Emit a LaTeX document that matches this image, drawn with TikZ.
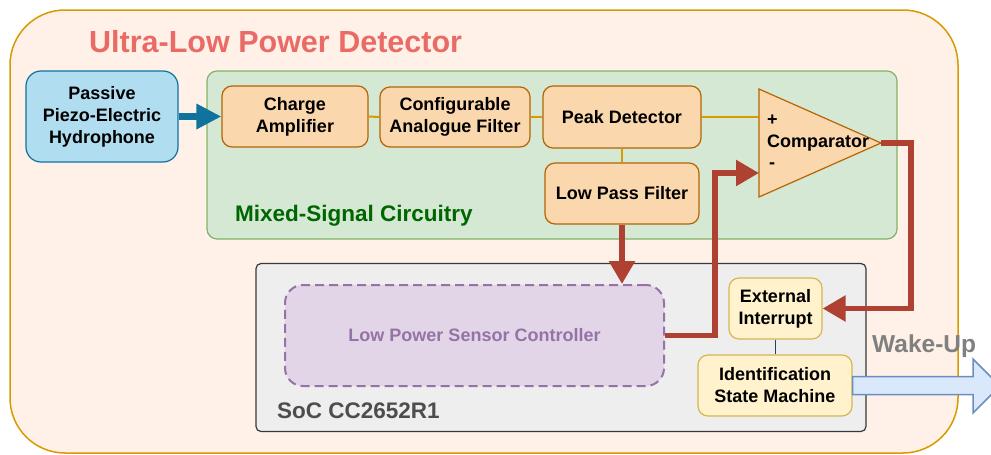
\documentclass[tikz,border=0pt]{standalone}
\usepackage{fontspec}
\setmainfont{Liberation Sans}
\usetikzlibrary{arrows.meta}
\definecolor{outerfill}{HTML}{FFF1E8}
\definecolor{outerdraw}{HTML}{D79B00}
\definecolor{titlered}{HTML}{EA6B66}
\definecolor{hydrofill}{HTML}{B1DDF0}
\definecolor{hydrodraw}{HTML}{10739E}
\definecolor{greenfill}{HTML}{D5E8D4}
\definecolor{greendraw}{HTML}{82B366}
\definecolor{greentext}{HTML}{006600}
\definecolor{orfill}{HTML}{FAD7AC}
\definecolor{ordraw}{HTML}{B46504}
\definecolor{orline}{HTML}{D79B00}
\definecolor{redline}{HTML}{AE4132}
\definecolor{socfill}{HTML}{EEEEEE}
\definecolor{socdraw}{HTML}{36393D}
\definecolor{soctext}{HTML}{4D4D4D}
\definecolor{lpfill}{HTML}{E1D5E7}
\definecolor{lpdraw}{HTML}{9673A6}
\definecolor{yfill}{HTML}{FFF2CC}
\definecolor{ydraw}{HTML}{D6B656}
\definecolor{darkline}{HTML}{23445D}
\definecolor{wfill}{HTML}{DAE8FC}
\definecolor{wdraw}{HTML}{6C8EBF}
\definecolor{wtext}{HTML}{808080}
\begin{document}
\begin{tikzpicture}[x=1pt,y=-1pt,
  txt/.style={font=\fontsize{18}{22}\selectfont\bfseries, align=center, inner sep=0pt},
  box/.style={txt, rounded corners=10pt, line width=1.2pt},
  orbox/.style={box, fill=orfill, draw=ordraw},
  ybox/.style={box, fill=yfill, draw=ydraw},
  orconn/.style={draw=orline, line width=2pt},
  redarrow/.style={draw=redline, line width=5.5pt, -{Triangle[length=23pt,width=25pt]}},
  bluearrow/.style={draw=hydrodraw, line width=6.5pt, -{Triangle[length=25pt,width=24pt]}},
]
\useasboundingbox (0,0) rectangle (991,455);
\clip (0,0) rectangle (991,455);
\node[draw=outerdraw, fill=outerfill, line width=1.5pt, rounded corners=55pt,
  minimum width=948pt, minimum height=443pt, inner sep=0pt] (outer) at (484,231.5) {};
\node[anchor=west, inner sep=0pt, text=titlered, font=\fontsize{30.5}{36}\selectfont\bfseries] (title) at (89,42) {Ultra-Low Power Detector};
\node[box, fill=hydrofill, draw=hydrodraw, rounded corners=15pt, minimum width=152pt, minimum height=91pt] (hydro) at (102,116.5) {Passive\\Piezo-Electric\\Hydrophone};
\node[fill=greenfill, draw=greendraw, line width=1.2pt, rounded corners=10pt, minimum width=690pt, minimum height=168pt, inner sep=0pt] (green) at (552,155) {};
\node[anchor=west, inner sep=0pt, text=greentext, font=\fontsize{22.5}{27}\selectfont\bfseries] (greenlbl) at (235,216) {Mixed-Signal Circuitry};
\node[orbox, minimum width=146pt, minimum height=61pt] (charge) at (295,116.5) {Charge\\Amplifier};
\node[orbox, minimum width=150pt, minimum height=60pt] (config) at (455,117) {Configurable\\Analogue Filter};
\node[orbox, minimum width=158pt, minimum height=62pt] (peak) at (622,117) {Peak Detector};
\node[orbox, minimum width=154pt, minimum height=61pt] (lpf) at (622,193.5) {Low Pass Filter};
\coordinate (cmpA) at (759,89);
\coordinate (cmpB) at (759,197);
\coordinate (cmpT) at (881,143);
\coordinate (cmpP) at (759,117);
\coordinate (cmpM) at (759,173);
\draw[fill=orfill, draw=ordraw, line width=1.2pt, line join=miter] (cmpA) -- (cmpT) -- (cmpB) -- cycle;
\node[txt, anchor=west] (plus) at (767,120) {+};
\node[txt, anchor=west] (cmplbl) at (767,143) {Comparator};
\node[txt, anchor=west] (minus) at (769,166) {-};
\node[fill=socfill, draw=socdraw, line width=1.2pt, rounded corners=5pt, minimum width=610pt, minimum height=168pt, inner sep=0pt] (soc) at (561,347.5) {};
\node[anchor=west, inner sep=0pt, text=soctext, font=\fontsize{22.5}{27}\selectfont\bfseries] (soclbl) at (277,411) {SoC CC2652R1};
\node[txt, fill=lpfill, draw=lpdraw, text=lpdraw, line width=2pt, dash pattern=on 9pt off 5pt, rounded corners=18pt, minimum width=379pt, minimum height=101pt] (lpsc) at (474.5,335.5) {Low Power Sensor Controller};
\node[ybox, minimum width=93pt, minimum height=61pt] (ei) at (775.5,308.5) {External\\Interrupt};
\node[ybox, minimum width=154pt, minimum height=61pt] (ism) at (775,385.5) {Identification\\State Machine};
% connectors
\draw[orconn] (charge.east) -- (config.west);
\draw[orconn] (config.east) -- (peak.west);
\draw[orconn] (peak.east) -- (cmpP);
\draw[orconn] (peak.south) -- (lpf.north);
\draw[bluearrow] (hydro.east) -- (charge.west);
\draw[redarrow] (lpf.south) -- (lpf.south |- lpsc.north);
\draw[redarrow] (lpsc.east) -- ++(50,0) |- (cmpM);
\draw[redarrow] (cmpT) -- ++(30,0) |- (ei.east);
\draw[draw=darkline, line width=1.5pt] (ei.south) -- (ei.south |- ism.north);
\draw[fill=wfill, draw=wdraw, line width=1.5pt, line join=miter]
  (ism.east) ++(0,-9) -- (973,376.5) -- (973,359) -- (1000,386) -- (973,413) -- (973,394.5) -- ([yshift=-9pt]ism.east) -- cycle;
\node[anchor=west, inner sep=0pt, text=wtext, font=\fontsize{24.5}{28}\selectfont\bfseries] (wake) at (872,346) {Wake-Up};
\end{tikzpicture}
\end{document}
